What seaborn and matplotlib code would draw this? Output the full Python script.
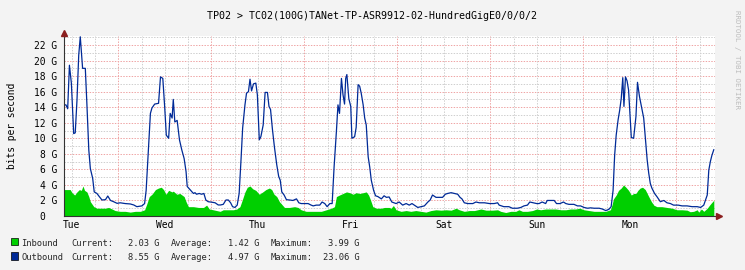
import matplotlib
matplotlib.use("Agg")
import matplotlib.pyplot as plt
import matplotlib.transforms as mtransforms
from matplotlib.patches import Rectangle
import seaborn as sns
import pandas as pd

# ---------------- data ----------------
title = "TP02 > TC02(100G)TANet-TP-ASR9912-02-HundredGigE0/0/0/2"
day_labels = ["Tue", "Wed", "Thu", "Fri", "Sat", "Sun", "Mon"]
day_label_hours = [2, 26, 50, 74, 98, 122, 146]          # noon of each day
day_line_hours = [14, 38, 62, 86, 110, 134, 158]         # midnights
six_hour_lines = [2, 8, 20, 26, 32, 44, 50, 56, 68, 74, 80, 92, 98, 104,
                  116, 122, 128, 140, 146, 152, 164]
ytick_values = [0, 2, 4, 6, 8, 10, 12, 14, 16, 18, 20, 22]
ygrid_minor = [1, 3, 5, 7, 9, 11, 13, 15, 17, 19, 21, 23]

out_hours = [0, 0.5, 0.95, 1.4, 1.9, 2.5, 2.9, 3.35, 3.8, 4.2, 4.8, 5.5, 5.9, 6.4, 6.8, 7.4, 7.8,
             8.5, 9.1, 9.8, 10.7, 11.3, 12.0, 12.8, 13.7, 14.5, 15.8, 17.1, 18.0, 18.8, 20.1,
             20.8, 21.2, 21.7, 22.3, 22.7, 23.4, 24.4, 24.9, 25.5, 26.0, 26.4, 27.0, 27.4, 27.9,
             28.2, 28.6, 29.2, 29.8, 30.4, 31.0, 31.5, 31.8, 32.5, 33.4, 33.8, 34.2, 34.9, 35.5,
             36.1, 36.6, 37.2, 38.1, 39.0, 39.8, 40.4, 41.1, 41.8, 42.4, 43.0, 43.5, 44.1, 44.7,
             45.2, 45.7, 46.1, 46.7, 47.1, 47.6, 48.0, 48.4, 48.9, 49.5, 49.9, 50.4, 50.8, 51.4,
             51.9, 52.5, 52.9, 53.3, 53.8, 54.3, 54.9, 55.4, 55.8, 56.2, 56.8, 57.4, 58.2, 59.1,
             59.5, 60.0, 60.6, 61.2, 62.1, 63.0, 63.7, 64.3, 65.1, 66.0, 66.6, 67.3, 67.9, 68.6,
             69.2, 69.7, 70.3, 70.7, 71.1, 71.6, 72.0, 72.4, 72.7, 73.0, 73.5, 74.0, 74.3, 75.0,
             75.4, 75.9, 76.3, 76.7, 77.2, 77.6, 78.0, 78.5, 78.9, 79.3, 79.9, 80.4, 81.0, 81.9,
             82.6, 83.2, 83.9, 84.6, 85.7, 86.5, 87.4, 88.3, 89.1, 89.8, 90.4, 91.3, 92.1, 93.0,
             93.9, 94.5, 95.1, 96.0, 96.7, 97.7, 98.4, 99.0, 99.9, 100.7, 101.6, 102.2, 102.7,
             103.3, 104.2, 105.5, 106.3, 107.2, 108.5, 109.8, 111.0, 111.9, 112.3, 113.5, 114.8,
             115.7, 117.0, 117.9, 118.7, 119.6, 120.2, 121.1, 122.0, 122.6, 123.4, 124.3, 124.7,
             125.6, 126.5, 127.1, 128.0, 128.9, 129.5, 130.3, 131.6, 132.5, 133.3, 134.2, 135.1,
             135.9, 136.8, 138.1, 138.9, 139.8, 140.6, 141.2, 141.7, 142.1, 142.5, 143.0, 143.4,
             143.8, 144.2, 144.5, 144.9, 145.3, 145.7, 146.4, 147.0, 147.6, 148.0, 148.5, 149.0,
             149.6, 150.0, 150.5, 150.9, 151.3, 151.7, 152.4, 153.0, 153.9, 154.8, 155.6, 156.5,
             157.3, 158.5, 159.5, 160.8, 162.1, 163.4, 164.3, 165.1, 166.0, 166.4, 166.8, 167.2,
             167.7]
out_gbps = [14.3, 14.3, 13.8, 19.4, 17.1, 10.6, 10.7, 14.9, 20.7, 23.06, 19.0, 19.0, 14.5, 8.5, 6.1,
            4.85, 3.1, 2.9, 2.5, 2.06, 2.1, 2.57, 2.0, 1.84, 1.63, 1.7, 1.6, 1.55, 1.42, 1.2, 1.3,
            1.6, 3.3, 7.8, 13.2, 13.9, 14.4, 14.5, 17.9, 17.7, 13.9, 10.4, 10.0, 13.2, 12.6,
            15.0, 12.1, 12.3, 9.8, 8.5, 7.4, 5.7, 3.8, 3.4, 2.9, 3.0, 2.8, 2.9, 2.8,
            2.9, 2.06, 1.84, 1.78, 1.7, 1.42, 1.42, 1.5, 2.06, 2.06, 1.7, 1.2, 1.1, 1.4,
            2.9, 7.4, 11.3, 14.3, 15.8, 16.0, 17.6, 16.1, 17.0, 17.1, 15.6, 9.8, 10.2, 11.7,
            15.9, 15.9, 14.1, 13.7, 11.1, 8.9, 6.6, 5.1, 4.6, 3.1, 2.7, 2.1, 2.06, 2.0,
            2.1, 2.2, 1.7, 1.6, 1.6, 1.6, 1.42, 1.3, 1.4, 1.4, 1.8, 1.6, 1.2, 1.6,
            1.6, 6.3, 10.9, 14.3, 13.2, 17.7, 15.6, 14.4, 17.7, 18.2, 15.1, 14.1, 10.0, 10.2,
            11.4, 16.9, 16.7, 15.8, 14.3, 12.6, 11.7, 7.6, 6.3, 4.6, 3.3, 2.6, 2.5, 2.2,
            2.6, 2.4, 2.45, 1.8, 1.6, 1.8, 1.4, 1.6, 1.4, 1.6, 1.4, 1.1, 1.2, 1.3,
            1.8, 2.06, 2.7, 2.4, 2.4, 2.4, 2.8, 2.9, 3.0, 2.9, 2.8, 2.4, 2.2,
            1.7, 1.6, 1.6, 1.8, 1.7, 1.7, 1.6, 1.6, 1.7, 1.4, 1.2, 1.2,
            1.0, 1.0, 1.1, 1.3, 1.4, 1.8, 1.7, 1.6, 1.6, 1.8, 1.6, 2.0,
            2.0, 2.0, 1.6, 1.6, 1.8, 1.6, 1.5, 1.5, 1.3, 1.3, 1.1, 1.0,
            1.05, 1.0, 1.0, 0.9, 0.7, 0.85, 1.2, 3.3, 7.8, 10.4, 12.4, 13.6,
            15.1, 17.8, 14.1, 17.9, 17.4, 16.2, 10.1, 10.0, 12.8, 17.2, 15.4, 14.1,
            12.6, 10.2, 7.2, 5.5, 4.2, 3.6, 2.9, 2.5, 1.84, 2.0, 1.7, 1.6,
            1.4, 1.4, 1.3, 1.3, 1.2, 1.2, 1.1, 1.4, 2.7, 5.9, 7.0, 7.8,
            8.55]

in_hours = [0, 1.6, 2.06, 2.75, 3.35, 3.96, 4.47, 4.9, 5.3, 5.9, 6.4, 6.8, 7.7, 8.5, 9.4, 10.7,
            11.5, 12.4, 13.2, 14.5, 15.8, 17.1, 18.4, 19.7, 20.8, 21.4, 22.0, 22.7, 23.6, 24.4,
            25.1, 25.7, 26.3, 27.0, 27.9, 28.2, 29.1, 29.9, 31.0, 31.5, 32.1, 33.4, 34.7, 36.0,
            36.8, 37.5, 38.5, 39.4, 40.3, 41.1, 42.4, 43.7, 44.6, 45.4, 46.1, 46.7, 47.3, 48.0,
            48.7, 49.5, 50.4, 51.3, 52.1, 53.0, 53.6, 54.2, 54.9, 55.6, 56.2, 56.9, 58.2, 59.5,
            60.4, 61.2, 62.5, 63.8, 65.1, 66.4, 67.7, 69.0, 69.8, 70.3, 71.1, 72.0, 72.9, 73.7,
            74.6, 75.4, 76.3, 77.2, 78.0, 78.6, 79.1, 79.7, 80.6, 81.9, 82.7, 83.9, 84.4, 85.0,
            85.7, 87.0, 88.3, 89.5, 90.8, 92.1, 93.4, 94.7, 96.0, 97.3, 98.6, 99.9, 101.2, 102.0,
            103.3, 104.6, 105.9, 107.6, 108.9, 110.6, 111.9, 112.7, 114.0, 115.3, 116.6, 117.4,
            118.3, 119.6, 120.9, 122.0, 123.0, 124.3, 125.6, 126.9, 128.2, 129.5, 130.7, 132.0,
            133.1, 134.2, 135.5, 136.8, 138.5, 139.8, 141.0, 141.4, 141.8, 142.5, 143.1, 143.8,
            144.4, 145.0, 145.7, 146.4, 147.0, 147.6, 148.1, 148.7, 149.3, 150.0, 150.5, 150.9,
            151.6, 152.2, 153.0, 154.3, 155.6, 156.9, 158.2, 159.5, 160.8, 161.6, 162.5, 163.4,
            163.8, 164.5, 165.1, 166.0, 166.6, 167.1, 167.7]
in_gbps = [3.4, 3.4, 3.0, 2.7, 3.1, 3.4, 3.3, 3.86, 3.3, 3.1, 2.5, 1.84, 1.2, 1.0, 1.0, 1.0,
           1.1, 0.9, 0.7, 0.6, 0.6, 0.5, 0.6, 0.6, 0.8, 1.6, 2.5, 2.8, 3.4, 3.6,
           3.7, 3.4, 2.8, 3.3, 3.1, 3.2, 2.8, 2.9, 2.5, 1.84, 1.2, 1.2, 1.1, 1.1,
           1.4, 0.9, 0.8, 0.7, 0.6, 0.8, 0.8, 0.8, 0.9, 1.2, 2.2, 3.1, 3.7, 3.86,
           3.5, 3.3, 2.8, 3.1, 3.4, 3.6, 3.4, 2.8, 2.5, 1.84, 1.5, 1.1, 1.1, 1.2,
           1.1, 0.8, 0.6, 0.6, 0.6, 0.6, 0.8, 1.0, 1.2, 2.5, 2.7, 2.9, 3.1, 3.0,
           2.8, 3.0, 2.9, 3.0, 3.1, 2.7, 2.06, 1.2, 1.0, 1.0, 1.1, 1.1, 1.0, 1.35,
           0.8, 0.6, 0.7, 0.6, 0.7, 0.6, 0.5, 0.7, 0.8, 0.75, 0.8, 0.75, 1.0, 0.8,
           0.6, 0.7, 0.7, 0.9, 0.75, 0.75, 0.8, 0.6, 0.45, 0.6, 0.6, 0.8,
           0.6, 0.6, 0.7, 0.9, 0.8, 0.9, 0.9, 0.9, 0.8, 0.8, 0.9, 0.9,
           1.0, 0.8, 0.7, 0.6, 0.6, 0.6, 0.8, 1.4, 2.2, 2.7, 3.3, 3.6,
           3.99, 3.7, 3.3, 2.7, 2.9, 2.9, 3.3, 3.6, 3.7, 3.4, 2.9, 2.5,
           1.84, 1.4, 1.2, 1.2, 1.1, 1.0, 0.8, 0.8, 0.75, 0.55, 0.6, 0.8,
           0.5, 0.9, 0.6, 1.0, 1.4, 1.7, 2.03]

series_names = ["Inbound", "Outbound"]
current_vals = [2.03, 8.55]
average_vals = [1.42, 4.97]
maximum_vals = [3.99, 23.06]

# ---------------- style ----------------
W, H = 745, 270
BG = "#F3F3F3"
GREEN = "#00CF00"
BLUE = "#002A97"
MAJOR = "#EFA5A5"
MINOR = "#CFCFCF"
AXIS = "#333333"
ARROW = "#8B1F1F"
MONO = ["DejaVu Sans Mono"]

sns.set_style("white")
plt.rcParams["font.family"] = MONO

fig = plt.figure(figsize=(W / 100, H / 100), dpi=100, facecolor=BG)
ax = fig.add_axes([64 / W, 54 / H, 651 / W, 180 / H], facecolor="white")

# grid
dash = (0, (1.4, 1.4))
for v in ygrid_minor:
    ax.axhline(v, color=MINOR, lw=0.72, ls=dash, zorder=0)
for v in ytick_values[1:]:
    ax.axhline(v, color=MAJOR, lw=0.72, ls=dash, zorder=0)
for h in six_hour_lines:
    ax.axvline(h, color=MINOR, lw=0.72, ls=dash, zorder=0)
for h in day_line_hours:
    ax.axvline(h, color=MAJOR, lw=0.72, ls=dash, zorder=0)

df_in = pd.DataFrame({"hour": in_hours, "gbps": in_gbps})
df_out = pd.DataFrame({"hour": out_hours, "gbps": out_gbps})
ax.fill_between(df_in["hour"], 0, df_in["gbps"], color=GREEN, lw=0, zorder=2)
sns.lineplot(data=df_out, x="hour", y="gbps", ax=ax, color=BLUE, lw=0.9, zorder=3)

ax.set_xlim(0, 168)
ax.set_ylim(0, 23.16)
ax.set_xlabel("")
ax.set_ylabel("")

for s in ["top", "right"]:
    ax.spines[s].set_visible(False)
for s in ["left", "bottom"]:
    ax.spines[s].set_color(AXIS)
    ax.spines[s].set_linewidth(0.8)
    ax.spines[s].set_zorder(5)

ax.set_xticks(day_label_hours)
ax.set_xticklabels(day_labels)
ax.set_yticks(ytick_values)
ax.set_yticklabels([("%d G" % v) if v else "0" for v in ytick_values])
ax.tick_params(axis="both", length=0, labelsize=6.9, colors="#000000")
ax.tick_params(axis="x", pad=3.2)
ax.tick_params(axis="y", pad=5.0)
for lab in ax.get_yticklabels():
    if lab.get_text() == "0":
        lab.set_transform(lab.get_transform() +
                          mtransforms.ScaledTranslation(-12 / 100, 0, fig.dpi_scale_trans))

# axis arrows
ax.plot([0], [1], marker="^", ms=4.5, color=ARROW, transform=ax.transAxes +
        mtransforms.ScaledTranslation(0, 3.5 / 100, fig.dpi_scale_trans), clip_on=False, zorder=6)
ax.plot([1], [0], marker=">", ms=4.5, color=ARROW, transform=ax.transAxes +
        mtransforms.ScaledTranslation(4 / 100, 0, fig.dpi_scale_trans), clip_on=False, zorder=6)

# texts
fig.text(372 / W, 1 - 19 / H, title, ha="center", va="baseline", fontsize=7.2,
         color="#000000")
fig.text(12 / W, 1 - 126 / H, "bits per second", rotation=90, ha="center", va="center",
         fontsize=6.9, color="#000000")
fig.text(737 / W, 1 - 59 / H, "RRDTOOL / TOBI OETIKER", rotation=270, ha="center", va="center",
         fontsize=5.3, color="#BDBDBD")

rows_y = [245.7, 260.0]
colors = [GREEN, BLUE]
lfs = 6.3
for i, name in enumerate(series_names):
    yb = 1 - rows_y[i] / H
    fig.patches.append(Rectangle((11 / W, 1 - (rows_y[i] - 0.3) / H), 6.5 / W, 7.5 / H,
                                 transform=fig.transFigure, facecolor=colors[i],
                                 edgecolor="#000000", lw=0.5))
    fig.text(21 / W, yb, name, ha="left", va="baseline", fontsize=lfs)
    fig.text(71.7 / W, yb, "Current:", ha="left", va="baseline", fontsize=lfs)
    fig.text(159.5 / W, yb, "%.2f G" % current_vals[i], ha="right", va="baseline", fontsize=lfs)
    fig.text(171 / W, yb, "Average:", ha="left", va="baseline", fontsize=lfs)
    fig.text(259.5 / W, yb, "%.2f G" % average_vals[i], ha="right", va="baseline", fontsize=lfs)
    fig.text(270.7 / W, yb, "Maximum:", ha="left", va="baseline", fontsize=lfs)
    fig.text(359.5 / W, yb, "%.2f G" % maximum_vals[i], ha="right", va="baseline", fontsize=lfs)

fig.savefig("out.png", dpi=100, facecolor=BG)
